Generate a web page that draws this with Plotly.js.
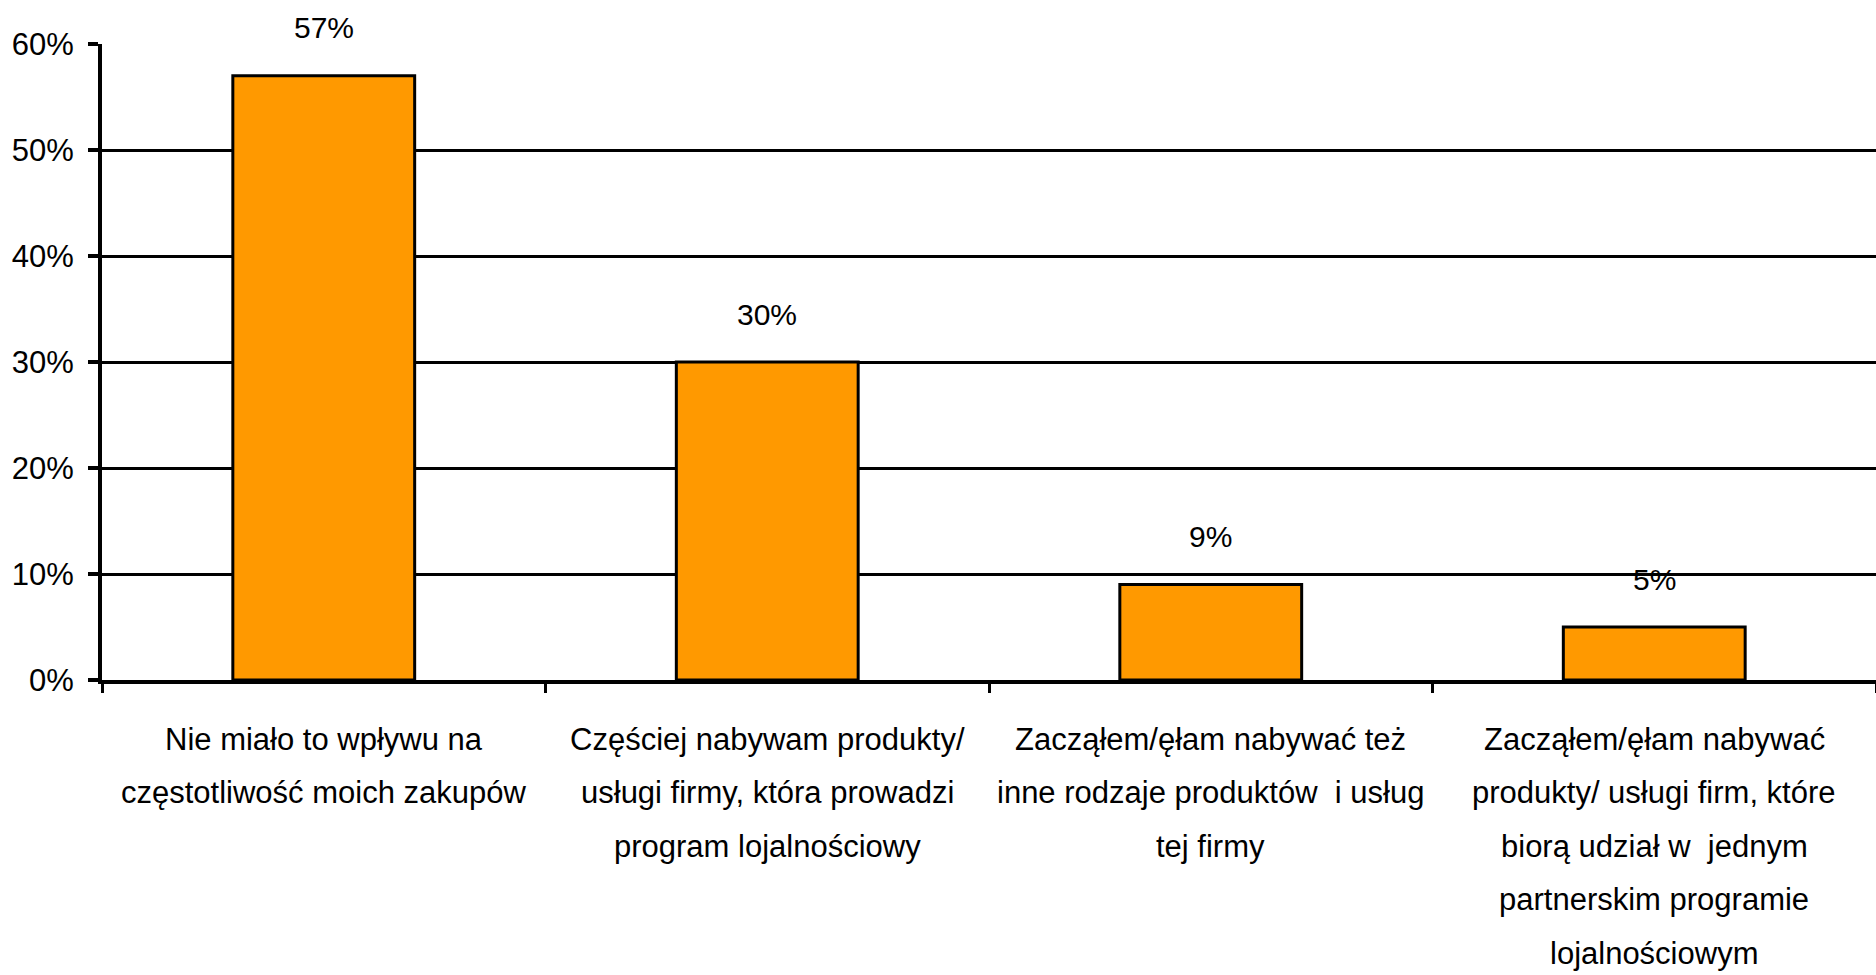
<!DOCTYPE html>
<html>
<head>
<meta charset="utf-8">
<script src="https://cdn.plot.ly/plotly-3.0.1.min.js"></script>
<style>html,body{margin:0;padding:0;background:#fff;}#chart{width:1876px;height:975px;}</style>
</head>
<body>
<div id="chart"></div>
<script>
const categories = [
  "Nie miało to wpływu na<br>częstotliwość moich zakupów",
  "Częściej nabywam produkty/<br>usługi firmy, która prowadzi<br>program lojalnościowy",
  "Zacząłem/ęłam nabywać też<br>inne rodzaje produktów  i usług<br>tej firmy",
  "Zacząłem/ęłam nabywać<br>produkty/ usługi firm, które<br>biorą udział w  jednym<br>partnerskim programie<br>lojalnościowym"
];
const values = [57, 30, 9, 5];
const dataLabels = ["57%", "30%", "9%", "5%"];
const yTickVals = [0, 10, 20, 30, 40, 50, 60];
const yTickText = ["0%", "10%", "20%", "30%", "40%", "50%", "60%"];

const FONT = "Liberation Sans, Arial, sans-serif";

const trace = {
  type: "bar",
  x: categories,
  y: values,
  marker: {color: "#FF9900", line: {color: "#000000", width: 3}},
  hoverinfo: "none"
};

const annotations = [];
categories.forEach((c, i) => {
  annotations.push({
    x: c, y: values[i], xref: "x", yref: "y",
    text: dataLabels[i], showarrow: false,
    yanchor: "middle", yshift: 48,
    font: {family: FONT, size: 30, color: "#000"}
  });
  c.split("<br>").forEach((line, k) => {
    annotations.push({
      x: c, y: 0, xref: "x", yref: "y",
      text: line, showarrow: false,
      xanchor: "center", yanchor: "middle",
      yshift: -59 - 53.6 * k,
      font: {family: FONT, size: 31, color: "#000"}
    });
  });
});

const layout = {
  width: 1876, height: 975,
  margin: {l: 102, r: 0, t: 44, b: 295},
  paper_bgcolor: "#fff", plot_bgcolor: "#fff",
  showlegend: false,
  bargap: 0.59,
  xaxis: {
    type: "category",
    showline: true, linecolor: "#000", linewidth: 4,
    ticks: "outside", tickson: "boundaries", ticklen: 9, tickwidth: 3, tickcolor: "#000",
    showticklabels: false,
    showgrid: false, zeroline: false, fixedrange: true
  },
  yaxis: {
    range: [0, 60],
    tickvals: yTickVals, ticktext: yTickText,
    showline: true, linecolor: "#000", linewidth: 4,
    ticks: "outside", ticklen: 10, tickwidth: 4, tickcolor: "#000",
    ticklabelstandoff: 8,
    tickfont: {family: FONT, size: 31, color: "#000"},
    showgrid: true, gridcolor: "#000", gridwidth: 3,
    zeroline: false, fixedrange: true
  },
  annotations: annotations
};

Plotly.newPlot("chart", [trace], layout, {displayModeBar: false, staticPlot: true});
</script>
</body>
</html>
